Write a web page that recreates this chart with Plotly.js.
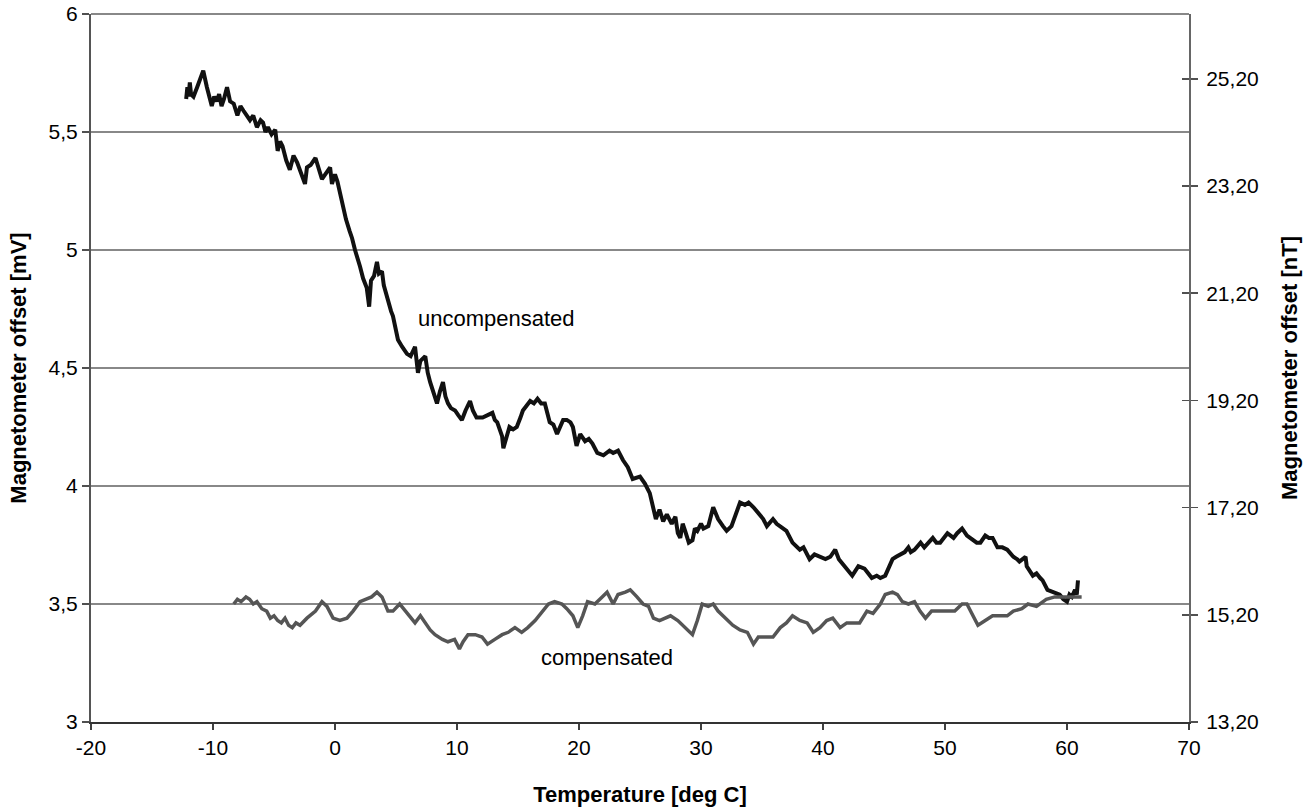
<!DOCTYPE html>
<html>
<head>
<meta charset="utf-8">
<script src="https://cdn.plot.ly/plotly-3.0.1.min.js"></script>
<style>html,body{margin:0;padding:0;background:#fff;}#chart{width:1304px;height:808px;}</style>
</head>
<body>
<div id="chart"></div>
<script>
// Uncompensated: temperature [deg C], offset [mV]
const uncompT = [-12.2,-12.1,-12.0,-11.9,-11.8,-11.6,-11.3,-11.1,-10.8,-10.5,-10.1,-9.9,-9.7,-9.5,-9.3,-9.1,-8.85,-8.6,-8.3,-8.0,-7.75,-7.5,-7.2,-6.97,-6.7,-6.4,-6.1,-5.9,-5.7,-5.5,-5.2,-4.9,-4.7,-4.5,-4.3,-4.0,-3.7,-3.4,-3.1,-2.8,-2.46,-2.3,-2.0,-1.6,-1.3,-1.07,-0.8,-0.4,-0.25,0.0,0.2,0.4,0.66,0.9,1.2,1.4,1.64,1.85,2.05,2.3,2.6,2.8,2.95,3.2,3.44,3.6,3.85,4.0,4.34,4.6,4.75,5.0,5.16,5.5,5.9,6.2,6.56,6.8,7.0,7.4,7.6,7.8,8.0,8.36,8.6,8.85,9.05,9.26,9.5,9.84,10.1,10.4,10.7,11.07,11.3,11.6,12.1,12.5,12.9,13.1,13.3,13.5,13.7,13.8,14.0,14.3,14.6,14.9,15.2,15.4,15.7,16.0,16.3,16.6,16.9,17.2,17.6,17.9,18.2,18.5,18.7,19.0,19.3,19.5,19.8,20.1,20.5,20.8,21.1,21.5,22.0,22.5,22.8,23.2,23.6,24.0,24.4,25.0,25.4,25.8,26.1,26.3,26.6,26.9,27.2,27.6,27.9,28.1,28.3,28.5,28.7,29.0,29.3,29.5,29.7,30.0,30.2,30.6,31.0,31.4,31.8,32.1,32.5,32.9,33.2,33.6,33.9,34.3,34.8,35.1,35.4,35.9,36.2,36.5,37.0,37.5,38.1,38.4,38.9,39.3,39.75,40.2,40.6,41.0,41.3,41.6,42.0,42.4,42.9,43.4,43.7,44.0,44.4,44.7,45.1,45.4,45.7,46.0,46.3,46.7,47.0,47.2,47.5,48.0,48.3,48.5,49.0,49.3,49.6,50.2,50.7,51.0,51.4,51.8,52.3,52.6,52.9,53.3,53.6,53.9,54.3,54.7,55.1,55.6,55.9,56.1,56.6,56.7,57.2,57.5,57.8,58.0,58.4,58.9,59.4,59.7,60.0,60.2,60.4,60.66,60.8,60.9];
const uncompV = [5.64,5.69,5.65,5.71,5.66,5.65,5.69,5.72,5.76,5.69,5.61,5.65,5.63,5.66,5.61,5.64,5.69,5.63,5.62,5.57,5.61,5.59,5.57,5.55,5.57,5.52,5.55,5.54,5.50,5.52,5.49,5.51,5.42,5.46,5.44,5.38,5.34,5.40,5.37,5.33,5.28,5.35,5.36,5.39,5.34,5.30,5.32,5.35,5.28,5.32,5.29,5.24,5.18,5.13,5.08,5.05,5.00,4.97,4.93,4.88,4.84,4.76,4.87,4.89,4.95,4.90,4.91,4.85,4.78,4.74,4.72,4.66,4.62,4.59,4.56,4.55,4.59,4.48,4.53,4.55,4.48,4.44,4.41,4.35,4.40,4.44,4.38,4.35,4.33,4.32,4.30,4.28,4.32,4.36,4.32,4.29,4.29,4.30,4.31,4.28,4.27,4.24,4.21,4.16,4.20,4.25,4.24,4.25,4.29,4.32,4.34,4.36,4.35,4.37,4.35,4.35,4.27,4.26,4.22,4.26,4.28,4.28,4.27,4.25,4.17,4.22,4.19,4.20,4.18,4.14,4.13,4.15,4.14,4.15,4.11,4.08,4.03,4.04,4.01,3.97,3.91,3.86,3.90,3.85,3.88,3.84,3.87,3.80,3.78,3.84,3.81,3.76,3.77,3.82,3.81,3.84,3.82,3.83,3.91,3.86,3.83,3.81,3.83,3.89,3.93,3.92,3.93,3.91,3.88,3.86,3.83,3.86,3.84,3.83,3.81,3.76,3.73,3.74,3.69,3.71,3.70,3.69,3.70,3.73,3.69,3.67,3.65,3.62,3.66,3.65,3.63,3.61,3.62,3.61,3.62,3.66,3.69,3.70,3.71,3.72,3.74,3.72,3.73,3.76,3.74,3.75,3.78,3.76,3.76,3.80,3.78,3.80,3.82,3.79,3.77,3.76,3.76,3.79,3.78,3.78,3.74,3.74,3.73,3.70,3.69,3.68,3.70,3.66,3.62,3.63,3.61,3.60,3.56,3.55,3.54,3.52,3.51,3.54,3.53,3.56,3.54,3.60];

// Compensated: temperature [deg C], offset [mV]
const compT = [-8.3,-8.0,-7.7,-7.3,-7.0,-6.7,-6.4,-6.0,-5.6,-5.3,-5.0,-4.7,-4.4,-4.1,-3.8,-3.5,-3.2,-2.87,-2.3,-1.6,-1.07,-0.66,-0.16,0.4,0.98,1.48,2.05,2.6,3.0,3.44,3.85,4.34,4.75,5.3,5.9,6.56,7.0,7.4,7.8,8.2,8.8,9.26,9.8,10.2,10.5,10.9,11.5,12.05,12.5,13.1,13.7,14.2,14.75,15.3,15.8,16.4,17.0,17.5,18.0,18.6,19.0,19.5,19.9,20.3,20.7,21.3,21.9,22.3,22.8,23.2,23.8,24.2,24.75,25.25,25.7,26.1,26.6,27.5,28.1,28.7,29.3,29.7,30.1,30.6,31.0,31.4,32.0,32.6,33.2,33.8,34.3,34.7,35.4,35.9,36.5,37.0,37.5,38.1,38.7,39.2,39.75,40.3,40.8,41.4,41.95,42.5,43.0,43.6,44.1,44.7,45.1,45.7,46.1,46.5,47.0,47.5,47.95,48.4,48.9,49.6,50.2,50.8,51.4,51.8,52.2,52.7,53.3,53.9,54.5,55.1,55.6,56.3,56.8,57.5,58.3,59.0,59.7,60.4,61.2];
const compV = [3.50,3.52,3.51,3.53,3.52,3.50,3.51,3.48,3.47,3.44,3.45,3.43,3.42,3.44,3.41,3.40,3.42,3.41,3.44,3.47,3.51,3.49,3.44,3.43,3.44,3.47,3.51,3.52,3.53,3.55,3.53,3.47,3.47,3.50,3.46,3.42,3.45,3.42,3.39,3.37,3.35,3.34,3.35,3.31,3.34,3.37,3.37,3.36,3.33,3.35,3.37,3.38,3.40,3.38,3.40,3.43,3.47,3.50,3.51,3.50,3.48,3.45,3.40,3.45,3.51,3.50,3.53,3.55,3.50,3.54,3.55,3.56,3.53,3.50,3.49,3.44,3.43,3.45,3.43,3.40,3.37,3.43,3.50,3.49,3.50,3.47,3.44,3.41,3.39,3.38,3.33,3.36,3.36,3.36,3.40,3.42,3.45,3.43,3.42,3.38,3.40,3.43,3.44,3.40,3.42,3.42,3.42,3.47,3.46,3.50,3.54,3.55,3.54,3.51,3.50,3.51,3.47,3.44,3.47,3.47,3.47,3.47,3.50,3.50,3.46,3.41,3.43,3.45,3.45,3.45,3.47,3.48,3.50,3.49,3.52,3.53,3.53,3.53,3.53];

const xTickVals = [-20,-10,0,10,20,30,40,50,60,70];
const xTickText = ["-20","-10","0","10","20","30","40","50","60","70"];
const mVTickVals = [3,3.5,4,4.5,5,5.5,6];
const mVTickText = ["3","3,5","4","4,5","5","5,5","6"];
const nTTickVals = [13.2,15.2,17.2,19.2,21.2,23.2,25.2];
const nTTickText = ["13,20","15,20","17,20","19,20","21,20","23,20","25,20"];

const FONT = "Liberation Sans, Arial, Helvetica, sans-serif";
const TICKSIZE = 21;
const TITLESIZE = 22;

const traces = [
  {x: uncompT, y: uncompV, type: 'scatter', mode: 'lines', name: 'uncompensated',
   line: {color: '#111111', width: 4}, hoverinfo: 'skip'},
  {x: compT, y: compV, type: 'scatter', mode: 'lines', name: 'compensated',
   line: {color: '#555555', width: 3.5}, hoverinfo: 'skip'},
  {x: [null], y: [null], yaxis: 'y2', showlegend: false, hoverinfo: 'skip'},
  {x: [null], y: [null], yaxis: 'y3', showlegend: false, hoverinfo: 'skip'}
];

const layout = {
  width: 1304, height: 808,
  margin: {l: 91, r: 115, t: 14, b: 86},
  paper_bgcolor: '#ffffff', plot_bgcolor: '#ffffff',
  showlegend: false,
  font: {family: FONT, size: TICKSIZE, color: '#000'},
  xaxis: {
    range: [-20, 70], tickvals: xTickVals, ticktext: xTickText,
    ticks: 'outside', ticklen: 6, tickwidth: 1.5, tickcolor: '#404040',
    showline: true, linecolor: '#333333', linewidth: 2, showgrid: false, zeroline: false,
    tickfont: {family: FONT, size: TICKSIZE, color: '#000'},
    title: {text: 'Temperature [deg C]', font: {family: FONT, size: TITLESIZE, color: '#000', weight: 'bold'}, standoff: 28}
  },
  yaxis: {
    range: [3, 6], tickvals: mVTickVals, ticktext: mVTickText,
    ticks: 'outside', ticklen: 7, tickwidth: 1.5, tickcolor: '#505050',
    showline: true, linecolor: '#555555', linewidth: 2,
    showgrid: true, gridcolor: '#888888', gridwidth: 1.4, zeroline: false,
    tickfont: {family: FONT, size: TICKSIZE, color: '#000'},
    title: {text: 'Magnetometer offset [mV]', font: {family: FONT, size: TITLESIZE, color: '#000', weight: 'bold'}, standoff: 16}
  },
  yaxis2: {
    overlaying: 'y', side: 'right', anchor: 'x',
    range: [13.2, 26.41], tickvals: nTTickVals, ticktext: nTTickText,
    ticks: 'outside', ticklen: 7, tickwidth: 1.5, tickcolor: '#505050',
    ticklabelstandoff: 4,
    showline: true, linecolor: '#666666', linewidth: 2, showgrid: false, zeroline: false,
    tickfont: {family: FONT, size: TICKSIZE, color: '#000'},
    title: {text: 'Magnetometer offset [nT]', font: {family: FONT, size: TITLESIZE, color: '#000', weight: 'bold'}, standoff: 24}
  },
  yaxis3: {
    overlaying: 'y', side: 'right', anchor: 'x',
    range: [13.2, 26.41], tickvals: nTTickVals, showticklabels: false,
    ticks: 'inside', ticklen: 7, tickwidth: 1.5, tickcolor: '#505050',
    showline: false, showgrid: false, zeroline: false
  },
  shapes: [
    {type: 'line', xref: 'paper', yref: 'paper', x0: 0, x1: 1, y0: 1, y1: 1,
     line: {color: '#888888', width: 2}}
  ],
  annotations: [
    {text: 'uncompensated', x: 13.2, y: 4.71, xref: 'x', yref: 'y', showarrow: false,
     font: {family: FONT, size: 22, color: '#000'}},
    {text: 'compensated', x: 22.3, y: 3.275, xref: 'x', yref: 'y', showarrow: false,
     font: {family: FONT, size: 22, color: '#000'}}
  ]
};

Plotly.newPlot('chart', traces, layout, {staticPlot: true, displayModeBar: false});
</script>
</body>
</html>
